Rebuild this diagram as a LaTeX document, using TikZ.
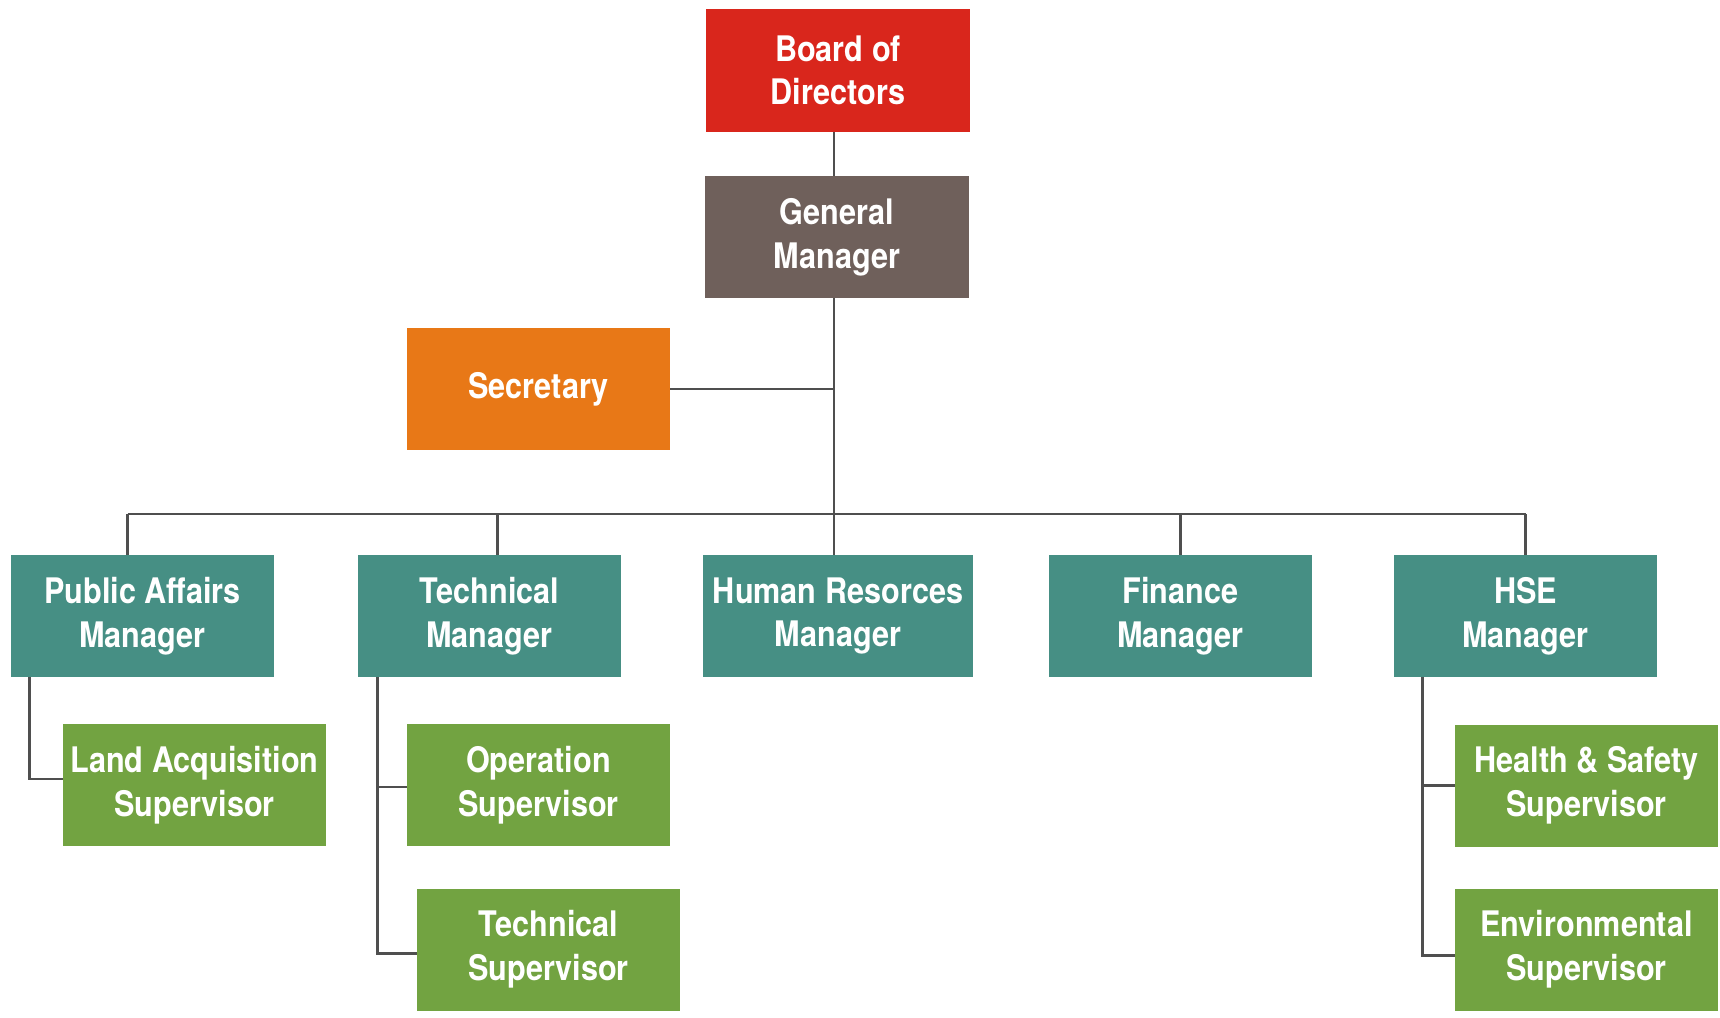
\documentclass[tikz,border=0pt]{standalone}
\usepackage{fontspec}
\newfontfamily\orgfont{TeX Gyre Heros}[FakeStretch=0.87]
\usepackage{tikz}
\usetikzlibrary{positioning}
\definecolor{boardred}{HTML}{D9261C}
\definecolor{gmbrown}{HTML}{6F605B}
\definecolor{secorange}{HTML}{E87817}
\definecolor{mgrteal}{HTML}{468F84}
\definecolor{supgreen}{HTML}{72A341}
\definecolor{linkgray}{HTML}{4F4F4F}

\begin{document}
\begin{tikzpicture}[x=0.5pt, y=-0.5pt,
  box/.style={rectangle, inner sep=0pt, minimum width=131.5pt, minimum height=61pt, align=center, text=white,
    font=\orgfont\bfseries\fontsize{17.6}{21.8}\selectfont},
  board/.style={box, fill=boardred, minimum width=132pt, minimum height=61.5pt},
  gm/.style={box, fill=gmbrown, minimum width=132pt},
  sec/.style={box, fill=secorange},
  mgr/.style={box, fill=mgrteal},
  sup/.style={box, fill=supgreen},
  link/.style={draw=linkgray, line width=1.3pt}]
\useasboundingbox (0,0) rectangle (1720,1018);
\node[board] (bod) at (838,70.5) {Board of\\Directors};
\node[gm] (gman) at (837,237) {General\\Manager};
\node[sec] (secr) at (538.5,389) {Secretary};
\node[mgr] (pam) at (142.5,616) {Public Affairs\\Manager};
\node[mgr] (tm) at (489.5,616) {Technical\\Manager};
\node[mgr, minimum width=135pt] (hrm) at (838,616) {Human Resorces\\Manager};
\node[mgr] (fm) at (1180.5,616) {Finance\\Manager};
\node[mgr] (hsem) at (1525.5,616) {HSE\\Manager};
\node[sup] (las) at (194.5,785) {Land Acquisition\\Supervisor};
\node[sup] (ops) at (538.5,785) {Operation\\Supervisor};
\node[sup] (tecs) at (548.5,949.5) {Technical\\Supervisor};
\node[sup] (hss) at (1586.5,785.5) {Health \& Safety\\Supervisor};
\node[sup] (envs) at (1586.5,949.5) {Environmental\\Supervisor};
% trunk and bus
\coordinate (trunk) at (834,514);
\path[link] (bod.south -| trunk) edge (gman.north -| trunk);
\path[link] (gman.south -| trunk) edge (hrm.north -| trunk);
\path[link] (secr.east) edge (secr.east -| trunk);
\path[link] ([xshift=-7.5pt]pam.north |- trunk) edge (hsem.north |- trunk);
\foreach \m/\dx in {pam/-7.5pt, tm/4pt, fm/0pt, hsem/0pt}
  \path[link] ([xshift=\dx]\m.north) edge ([xshift=\dx]\m.north |- trunk);
% side branches
\coordinate (paside) at ([xshift=9.5pt]pam.south west);
\coordinate (tmside) at ([xshift=10pt]tm.south west);
\coordinate (hseside) at ([xshift=14.5pt]hsem.south west);
\draw[link] (paside) |- ([yshift=3pt]las.west);
\draw[link] (tmside) |- ([yshift=-2pt]tecs.west);
\draw[link] ([yshift=-1pt]ops.west) -- ([yshift=-1pt]ops.west -| tmside);
\draw[link] (hseside) |- ([yshift=-3pt]envs.west);
\draw[link] (hss.west) -- (hss.west -| hseside);
\end{tikzpicture}
\end{document}
